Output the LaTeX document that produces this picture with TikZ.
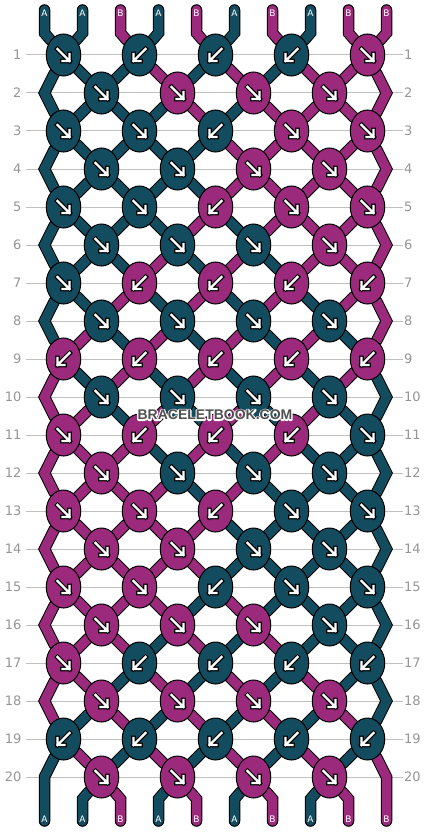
\documentclass[tikz,border=0pt]{standalone}
\usepackage{fontspec}
\setmainfont{DejaVu Sans}
\newfontfamily\wmfont{Liberation Sans}
\usetikzlibrary{shapes.geometric}
\pgfdeclarelayer{paper}
\pgfdeclarelayer{grid}
\pgfdeclarelayer{background}
\pgfsetlayers{paper,grid,background,main}
\definecolor{strA}{RGB}{18,76,94}
\definecolor{strB}{RGB}{155,42,125}
\definecolor{gridc}{RGB}{192,192,192}
\definecolor{labc}{RGB}{150,150,150}
\definecolor{wmgray}{RGB}{80,80,80}

% name of the place where string position #3 sits at level #2
\newcommand\setnm[3]{%
 \ifnum#2=0 \edef#1{tb-#3}\else
 \ifnum#2=21 \edef#1{be-#3}\else
 \ifodd#2 \pgfmathtruncatemacro\kk{#3/2}\edef#1{k-#2-\kk}\else
  \ifnum#3=0 \edef#1{e-#2-#3}\else
  \ifnum#3=9 \edef#1{e-#2-#3}\else
  \pgfmathtruncatemacro\kk{(#3-1)/2}\edef#1{k-#2-\kk}\fi\fi\fi\fi\fi}

\newcommand\strandpass[1]{%
\foreach \r/\st in {0/{A,A,B,A,B,A,B,A,B,B},1/{A,A,A,B,A,B,A,B,B,B},2/{A,A,A,A,B,A,B,B,B,B},
 3/{A,A,A,A,A,B,B,B,B,B},4/{A,A,A,A,A,B,B,B,B,B},5/{A,A,A,A,B,A,B,B,B,B},6/{A,A,A,B,A,B,A,B,B,B},
 7/{A,A,B,A,B,A,B,A,B,B},8/{A,B,A,B,A,B,A,B,A,B},9/{B,A,B,A,B,A,B,A,B,A},10/{B,B,A,B,A,B,A,B,A,A},
 11/{B,B,B,A,B,A,B,A,A,A},12/{B,B,B,B,A,B,A,A,A,A},13/{B,B,B,B,B,A,A,A,A,A},14/{B,B,B,B,B,A,A,A,A,A},
 15/{B,B,B,B,A,B,A,A,A,A},16/{B,B,B,A,B,A,B,A,A,A},17/{B,B,A,B,A,B,A,B,A,A},18/{B,A,B,A,B,A,B,A,B,A},
 19/{A,B,A,B,A,B,A,B,A,B},20/{A,A,B,A,B,A,B,A,B,B}}{%
 \foreach \c [count=\i from 0] in \st {%
  \ifnum#1=0\relax \def\pcol{black}\def\pw{11.5pt}\else \edef\pcol{str\c}\def\pw{9.5pt}\fi
  \pgfmathtruncatemacro\rn{\r+1}%
  \pgfmathtruncatemacro\rnn{\r+2}%
  \setnm\na{\r}{\i}%
  \setnm\nb{\rn}{\i}%
  \def\isedge{0}%
  \ifnum\i=0\relax\def\isedge{1}\fi
  \ifnum\i=9\relax\def\isedge{1}\fi
  \ifnum\r=0\relax
    \draw[strand,draw=\pcol,line width=\pw] (t-\i) -- (tb-\i) -- (\nb);
  \else
    \ifnum\r=20\relax
      \ifnum\isedge=0\relax
        \draw[strand,draw=\pcol,line width=\pw] (\na) -- (bb-\i) -- (be-\i);
      \fi
    \else
      \ifnum\isedge=1\relax
        \ifodd\r\relax
          \setnm\nc{\rnn}{\i}%
          \draw[strand,draw=\pcol,line width=\pw] (\na) -- (\nb) -- (\nc);
        \fi
      \else
        \draw[strand,draw=\pcol,line width=\pw] (\na) -- (\nb);
      \fi
    \fi
  \fi
 }}}

\newcommand\haloed[1]{\rlap{\special{pdf:literal direct q 1 Tr 2.6 w 1 j 1 1 1 RG}#1\special{pdf:literal direct Q}}#1}

\begin{document}
\begin{tikzpicture}[x=1pt,y=-1pt,
  knot/.style={ellipse,draw=black,line width=1pt,minimum width=34.5pt,minimum height=42pt,inner sep=0pt},
  strand/.style={line join=miter,line cap=round},
  arrowout/.style={draw=black,line width=4.6pt,line cap=rect,line join=miter},
  arrowin/.style={draw=white,line width=2.4pt,line cap=rect,line join=miter},
  gridline/.style={draw=gridc,line width=1pt},
  rowlab/.style={text=labc,font=\fontsize{13}{13}\selectfont,inner sep=0pt},
  endlab/.style={text=white,font=\fontsize{9}{9}\selectfont,inner sep=0pt}]
\begin{pgfonlayer}{paper}
\fill[white] (0,0) rectangle (430,832);
\end{pgfonlayer}
\useasboundingbox (0,0) rectangle (430,832);

% row rules and numbers
\foreach \r in {1,...,20}{%
  \pgfmathsetmacro\yy{17+38*\r}%
  \node[rowlab,anchor=east] (ll-\r) at (21.5,\yy) {\r};
  \node[rowlab,anchor=west] (rl-\r) at (404,\yy) {\r};
  \begin{pgfonlayer}{grid}
    \draw[gridline] (26,\yy) -- (403,\yy);
  \end{pgfonlayer}
}

% string ends and bends
\foreach \i in {0,...,9}{%
  \pgfmathsetmacro\xx{44.5+38*\i}%
  \coordinate (t-\i) at (\xx,10);
  \coordinate (tb-\i) at (\xx,33);
  \coordinate (bb-\i) at (\xx,799);
  \coordinate (be-\i) at (\xx,821);
}
% edge turning points on even rows
\foreach \r in {2,4,...,20}{%
  \pgfmathsetmacro\yy{17+38*\r}%
  \coordinate (e-\r-0) at (44.5,\yy);
  \coordinate (e-\r-9) at (386.5,\yy);
}

% knots
\foreach \r/\ks in {1/{R/A,L/A,L/A,L/A,R/B},2/{R/A,R/B,R/B,R/B},3/{R/A,R/A,L/A,R/B,R/B},
 4/{R/A,R/A,R/B,R/B},5/{R/A,R/A,L/B,R/B,R/B},6/{R/A,R/A,R/A,R/B},7/{R/A,L/B,L/B,L/B,L/B},
 8/{R/A,R/A,R/A,R/A},9/{L/B,L/B,L/B,L/B,L/B},10/{R/A,R/A,R/A,R/A},11/{R/B,L/B,L/B,L/B,R/A},
 12/{R/B,R/A,R/A,R/A},13/{R/B,R/B,L/B,R/A,R/A},14/{R/B,R/B,R/A,R/A},15/{R/B,R/B,L/A,R/A,R/A},
 16/{R/B,R/B,R/B,R/A},17/{R/B,L/A,L/A,L/A,L/A},18/{R/B,R/B,R/B,R/B},19/{L/A,L/A,L/A,L/A,L/A},
 20/{R/B,R/B,R/B,R/B}}{%
 \foreach \d/\c [count=\k from 0] in \ks {%
  \pgfmathsetmacro\yy{17+38*\r}%
  \ifodd\r\relax \pgfmathsetmacro\xx{63.5+76*\k}\else \pgfmathsetmacro\xx{101.5+76*\k}\fi
  \if\d R\def\sg{1}\else\def\sg{-1}\fi
  \node[knot,fill=str\c] (k-\r-\k) at (\xx,\yy) {};
  \draw[arrowout,shift={(k-\r-\k.center)},xscale=\sg] (-6,-6) -- (6,6) (-1,6) -- (6,6) -- (6,-1);
  \draw[arrowin,shift={(k-\r-\k.center)},xscale=\sg] (-6,-6) -- (6,6) (-1,6) -- (6,6) -- (6,-1);
 }}

% strands under the knots
\begin{pgfonlayer}{background}
\strandpass{0}
\strandpass{1}
\end{pgfonlayer}

% string end letters
\foreach \c [count=\i from 0] in {A,A,B,A,B,A,B,A,B,B}{%
  \pgfmathsetmacro\xx{44.5+38*\i}%
  \node[endlab] (lt-\i) at (\xx,13) {\c};
  \node[endlab] (lb-\i) at (\xx,819.5) {\c};
}

% watermark
\node[font=\wmfont\bfseries\fontsize{14}{14}\selectfont,text=wmgray,inner sep=0pt] (wm) at (215,415) {\haloed{BRACELETBOOK.COM}};
\end{tikzpicture}
\end{document}
